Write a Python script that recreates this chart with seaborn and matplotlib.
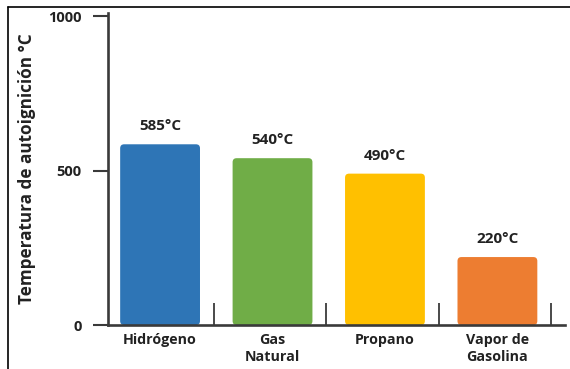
import matplotlib
matplotlib.use("Agg")
import matplotlib.pyplot as plt
from matplotlib.patches import FancyBboxPatch
from matplotlib.lines import Line2D
import seaborn as sns
import pandas as pd

# Autoignition temperatures of common fuels
combustibles = ["Hidrógeno", "Gas\nNatural", "Propano", "Vapor de\nGasolina"]
temperaturas = [585, 540, 490, 220]
etiquetas = ["585°C", "540°C", "490°C", "220°C"]
colores = ["#2E75B6", "#70AD47", "#FFC000", "#ED7D31"]
yticks = [0, 500, 1000]

sns.set_theme(style="white")
plt.rcParams["font.family"] = ["Open Sans", "DejaVu Sans"]
plt.rcParams["font.weight"] = "bold"

df = pd.DataFrame({"combustible": combustibles, "temperatura": temperaturas})

fig = plt.figure(figsize=(5.70, 3.69), dpi=100)
ax = fig.add_axes([0.1895, 0.1192, 0.991 - 0.1895, 0.9648 - 0.1192])

sns.barplot(data=df, x="combustible", y="temperatura", hue="combustible",
            palette=colores, width=0.71, legend=False, saturation=1, ax=ax)

# round the bar corners
px_x = 1 / 112.4
px_y = 1 / 0.3094
for patch, color in zip(list(ax.patches), colores):
    x0, y0 = patch.get_x(), patch.get_y()
    w, h = patch.get_width(), patch.get_height()
    patch.set_visible(False)
    r = 4 * px_x
    fb = FancyBboxPatch((x0 + r, y0 + r * px_y / px_x), w - 2 * r,
                        h - 2 * r * px_y / px_x,
                        boxstyle=f"round,pad={r},rounding_size={r}",
                        mutation_aspect=px_y / px_x,
                        facecolor=color, edgecolor="none")
    ax.add_patch(fb)

for i, (val, lab) in enumerate(zip(temperaturas, etiquetas)):
    ax.annotate(lab, (i, val), xytext=(0, 8), textcoords="offset points",
                ha="center", va="bottom", fontsize=11, fontweight="bold",
                color="#222222")

ax.set_xlim(-0.463, 3.6)
ax.set_ylim(0, 1010)
ax.set_yticks(yticks)
ax.set_yticklabels([str(t) for t in yticks], fontsize=10.5, fontweight="bold",
                   color="#222222")
ax.set_xlabel("")
ax.set_ylabel("Temperatura de autoignición °C", fontsize=12.3,
              fontweight="bold", color="#222222", labelpad=9)

for side in ["top", "right"]:
    ax.spines[side].set_visible(False)
for side in ["left", "bottom"]:
    ax.spines[side].set_color("#3a3a3a")
    ax.spines[side].set_linewidth(1.9)

ax.tick_params(axis="y", which="major", direction="out", length=11,
               width=1.5, color="#3a3a3a", left=True, pad=8)
ax.tick_params(axis="x", which="major", length=0, pad=6)
for t in ax.get_xticklabels():
    t.set_fontsize(10.3)
    t.set_fontweight("bold")
    t.set_color("#222222")
    t.set_linespacing(1.2)
    t.set_verticalalignment("top")

ax.set_xticks([i + 0.48 for i in range(len(combustibles))], minor=True)
ax.tick_params(axis="x", which="minor", direction="in", length=16,
               width=1.3, color="#3a3a3a", bottom=True)

# frame lines along the left and top edges
fig.add_artist(Line2D([7.5 / 570, 7.5 / 570], [0, 1 - 7 / 369],
                      transform=fig.transFigure, color="black", lw=1.2))
fig.add_artist(Line2D([7.5 / 570, 1], [1 - 7 / 369, 1 - 7 / 369],
                      transform=fig.transFigure, color="black", lw=1.2))

fig.savefig("out.png", dpi=100)
